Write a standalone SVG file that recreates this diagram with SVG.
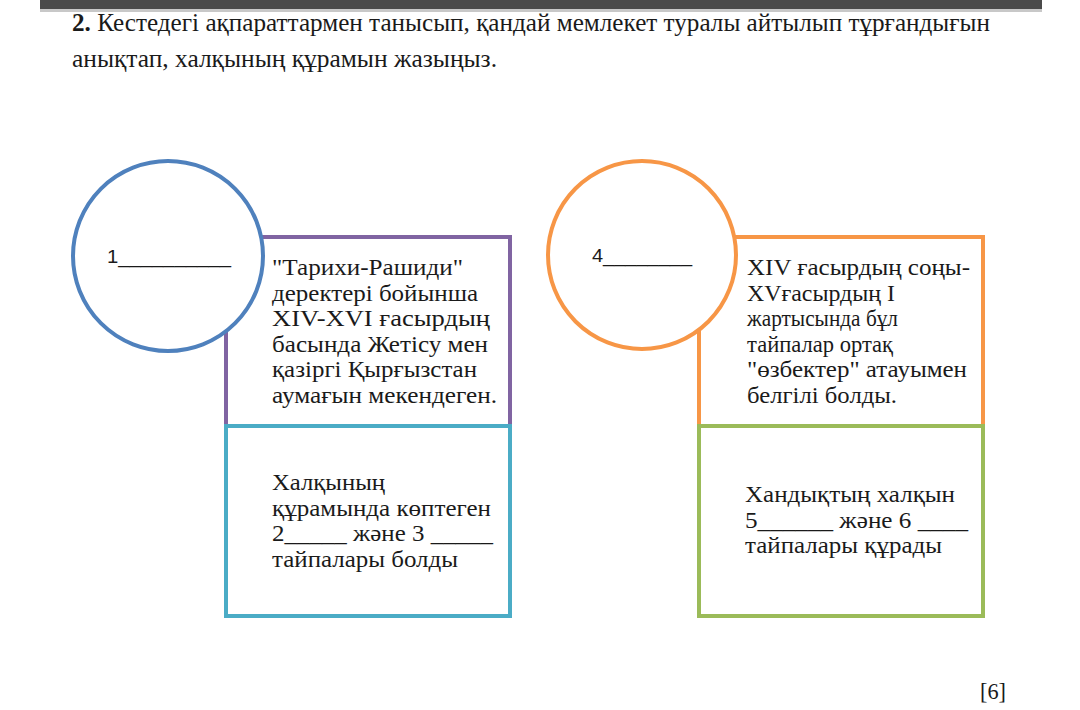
<svg xmlns="http://www.w3.org/2000/svg" width="1080" height="710" viewBox="0 0 1080 710">
<style>
.t{font-family:"Liberation Serif","DejaVu Serif",serif;font-size:23px;fill:#1a1a1a}
.h{font-family:"Liberation Serif","DejaVu Serif",serif;font-size:25px;fill:#1a1a1a}
.c{font-family:"Liberation Sans","Open Sans",sans-serif;font-size:19px;fill:#1a1a1a}
.box{fill:#ffffff;stroke-width:4}
.circ{fill:#ffffff;stroke-width:4}
</style>
<rect x="0" y="0" width="1080" height="710" fill="#ffffff"/>
<rect x="40" y="0" width="1002" height="9" fill="#4a4a4a"/>
<rect x="40" y="9" width="1002" height="3" fill="#c8c8c8"/>
<g id="title">
<text class="h" x="72" y="31" textLength="918" lengthAdjust="spacingAndGlyphs"><tspan font-weight="bold">2.</tspan> Кестедегі ақпараттармен танысып, қандай мемлекет туралы айтылып тұрғандығын</text>
<text class="h" x="72" y="67" textLength="425" lengthAdjust="spacingAndGlyphs">анықтап, халқының құрамын жазыңыз.</text>
</g>
<g id="left-top-box">
<rect class="box" x="226" y="237" width="284" height="189" stroke="#8064a2"/>
<text class="t" x="272" y="275" textLength="191" lengthAdjust="spacingAndGlyphs">"Тарихи-Рашиди"</text>
<text class="t" x="272" y="300.6" textLength="206" lengthAdjust="spacingAndGlyphs">деректері бойынша</text>
<text class="t" x="272" y="326.2" textLength="218" lengthAdjust="spacingAndGlyphs">XIV-XVI ғасырдың</text>
<text class="t" x="272" y="351.8" textLength="216" lengthAdjust="spacingAndGlyphs">басында Жетісу мен</text>
<text class="t" x="272" y="377.4" textLength="205" lengthAdjust="spacingAndGlyphs">қазіргі Қырғызстан</text>
<text class="t" x="272" y="403" textLength="225" lengthAdjust="spacingAndGlyphs">аумағын мекендеген.</text>
</g>
<g id="left-bottom-box">
<rect class="box" x="226" y="426" width="284" height="190" stroke="#4bacc6"/>
<text class="t" x="272" y="490" textLength="113" lengthAdjust="spacingAndGlyphs">Халқының</text>
<text class="t" x="272" y="515.6" textLength="219" lengthAdjust="spacingAndGlyphs">құрамында көптеген</text>
<text class="t" x="272" y="541.2" textLength="221" lengthAdjust="spacingAndGlyphs">2_____ және 3 _____</text>
<text class="t" x="272" y="566.8" textLength="186" lengthAdjust="spacingAndGlyphs">тайпалары болды</text>
</g>
<g id="left-circle">
<circle class="circ" cx="168" cy="256" r="95" stroke="#4f81bd"/>
<text class="c" x="107" y="263" textLength="124" lengthAdjust="spacingAndGlyphs">1__________</text>
</g>
<g id="right-top-box">
<rect class="box" x="699" y="237" width="284" height="189" stroke="#f79646"/>
<text class="t" x="747" y="275" textLength="223" lengthAdjust="spacingAndGlyphs">XIV ғасырдың соңы-</text>
<text class="t" x="747" y="300.6" textLength="148" lengthAdjust="spacingAndGlyphs">XVғасырдың I</text>
<text class="t" x="747" y="326.2" textLength="151" lengthAdjust="spacingAndGlyphs">жартысында бұл</text>
<text class="t" x="747" y="351.8" textLength="146" lengthAdjust="spacingAndGlyphs">тайпалар ортақ</text>
<text class="t" x="747" y="377.4" textLength="220" lengthAdjust="spacingAndGlyphs">"өзбектер" атауымен</text>
<text class="t" x="747" y="403" textLength="150" lengthAdjust="spacingAndGlyphs">белгілі болды.</text>
</g>
<g id="right-bottom-box">
<rect class="box" x="699" y="426" width="284" height="190" stroke="#9bbb59"/>
<text class="t" x="745" y="502" textLength="210" lengthAdjust="spacingAndGlyphs">Хандықтың халқын</text>
<text class="t" x="745" y="527.6" textLength="223" lengthAdjust="spacingAndGlyphs">5______ және 6 ____</text>
<text class="t" x="745" y="553.2" textLength="197" lengthAdjust="spacingAndGlyphs">тайпалары құрады</text>
</g>
<g id="right-circle">
<circle class="circ" cx="642" cy="255" r="94" stroke="#f79646"/>
<text class="c" x="592" y="262" textLength="100" lengthAdjust="spacingAndGlyphs">4________</text>
</g>
<g id="connectors"></g>
<text class="t" x="980" y="699" textLength="26" lengthAdjust="spacingAndGlyphs">[6]</text>
</svg>
